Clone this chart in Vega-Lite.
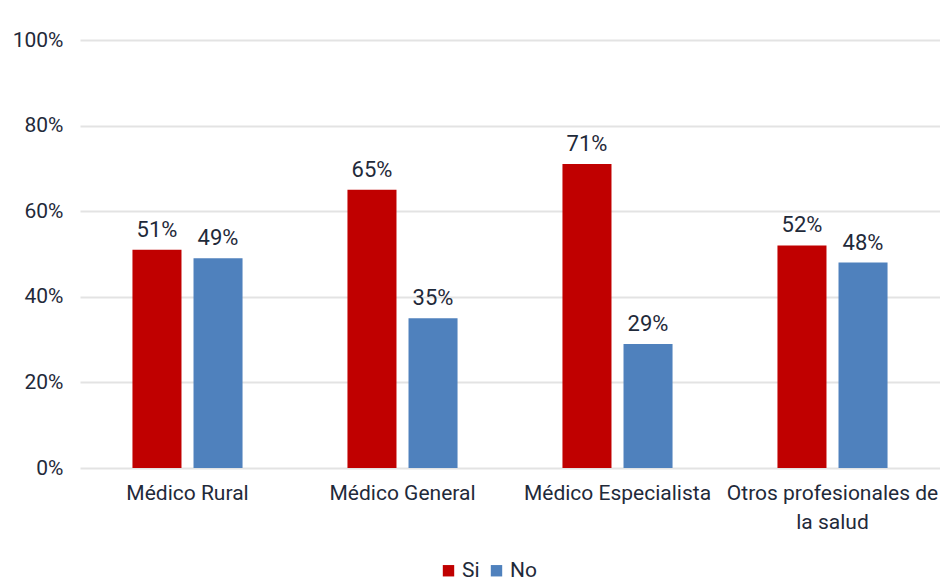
{
  "$schema": "https://vega.github.io/schema/vega-lite/v6.json",
  "width": 860,
  "height": 428,
  "autosize": {"type": "none"},
  "padding": {"left": 80, "top": 40, "right": 0, "bottom": 113},
  "background": "white",
  "config": {
    "view": {"stroke": null},
    "font": "Roboto",
    "axis": {"labelFont": "Roboto", "labelColor": "#1f2a3a", "labelFontSize": 21},
    "legend": {"labelFont": "Roboto", "labelColor": "#1f2a3a", "labelFontSize": 21}
  },
  "data": {
    "values": [
      {"cat": "Médico Rural", "resp": "Si", "value": 0.51},
      {"cat": "Médico Rural", "resp": "No", "value": 0.49},
      {"cat": "Médico General", "resp": "Si", "value": 0.65},
      {"cat": "Médico General", "resp": "No", "value": 0.35},
      {"cat": "Médico Especialista", "resp": "Si", "value": 0.71},
      {"cat": "Médico Especialista", "resp": "No", "value": 0.29},
      {"cat": "Otros profesionales de la salud", "resp": "Si", "value": 0.52},
      {"cat": "Otros profesionales de la salud", "resp": "No", "value": 0.48}
    ]
  },
  "encoding": {
    "x": {
      "field": "cat", "type": "nominal", "sort": null,
      "scale": {"paddingInner": 0.488, "paddingOuter": 0.244},
      "axis": {
        "title": null, "labelAngle": 0, "ticks": false, "domain": false,
        "labelPadding": 14, "labelLineHeight": 29, "labelLimit": 0, "labelOverlap": false,
        "labelExpr": "datum.label == 'Otros profesionales de la salud' ? ['Otros profesionales de', 'la salud'] : datum.label"
      }
    },
    "xOffset": {"field": "resp", "type": "nominal", "sort": ["Si", "No"], "scale": {"paddingInner": 0.197}},
    "y": {
      "field": "value", "type": "quantitative",
      "scale": {"domain": [0, 1]},
      "axis": {
        "title": null, "format": ".0%", "values": [0, 0.2, 0.4, 0.6, 0.8, 1],
        "labelOverlap": false, "labelFlush": false,
        "ticks": false, "domain": false, "gridColor": "#e3e3e3", "gridWidth": 2, "labelPadding": 17
      }
    },
    "color": {
      "field": "resp", "type": "nominal", "sort": ["Si", "No"],
      "scale": {"domain": ["Si", "No"], "range": ["#c00000", "#4f81bd"]},
      "legend": {
        "title": null, "orient": "none", "legendX": 358, "legendY": 520, "direction": "horizontal",
        "symbolType": "square", "symbolSize": 130, "symbolStrokeWidth": 0,
        "columnPadding": 6, "labelOffset": 3
      }
    }
  },
  "layer": [
    {"mark": {"type": "bar"}},
    {
      "mark": {"type": "text", "dy": -20, "fontSize": 22, "font": "Roboto"},
      "encoding": {
        "text": {"field": "value", "type": "quantitative", "format": ".0%"},
        "color": {"value": "#1f2a3a"}
      }
    }
  ]
}
